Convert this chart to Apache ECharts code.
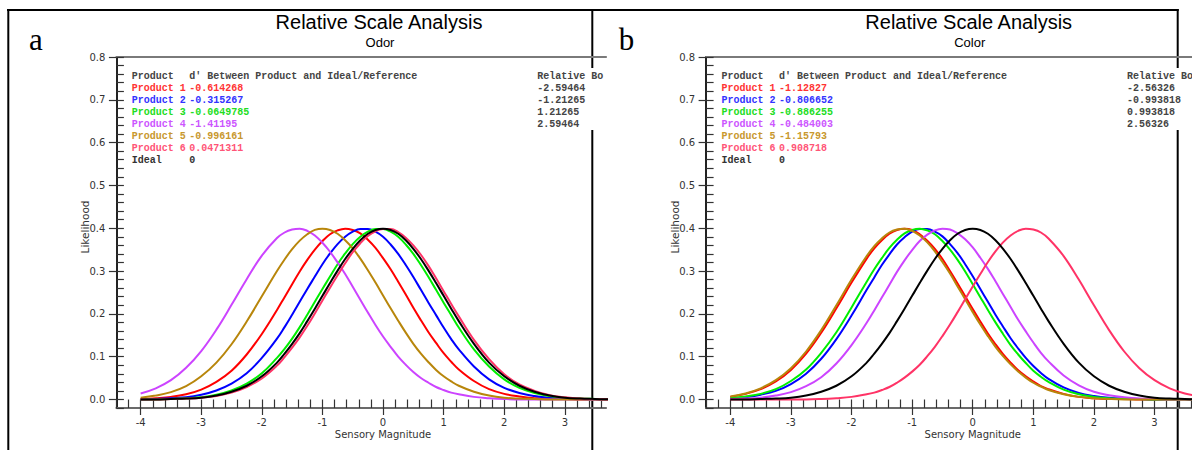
<!DOCTYPE html>
<html><head><meta charset="utf-8">
<script src="https://cdn.jsdelivr.net/npm/echarts@6/dist/echarts.min.js"></script>
<style>html,body{margin:0;padding:0;background:#fff}#c{width:1192px;height:450px}</style>
</head><body><div id="c"></div>
<script>
// ---------------- data ----------------
const xs = [-4,-3.75,-3.5,-3.25,-3,-2.75,-2.5,-2.25,-2,-1.75,
  -1.625,-1.5,-1.375,-1.25,-1.125,-1,-0.875,-0.75,-0.625,-0.5,-0.375,-0.25,-0.125,0,0.125,0.25,0.375,0.5,0.625,0.75,0.875,1,1.125,1.25,
  1.5,1.75,2,2.25,2.5,2.75,3,3.25,3.5,3.75];
const productNames = ['Product 1','Product 2','Product 3','Product 4','Product 5','Product 6','Ideal'];
const odorDprime  = ['-0.614268','-0.315267','-0.0649785','-1.41195','-0.996161','0.0471311','0'];
const colorDprime = ['-1.12827','-0.806652','-0.886255','-0.484003','-1.15793','0.908718','0'];
const odorBounds  = ['-2.59464','-1.21265','1.21265','2.59464'];
const colorBounds = ['-2.56326','-0.993818','0.993818','2.56326'];
const yTickLabels = ['0.0','0.1','0.2','0.3','0.4','0.5','0.6','0.7','0.8'];

const odorP1 = [0.001,0.003,0.006,0.012,0.023,0.041,0.067,0.105,0.153,0.209,
  0.239,0.269,0.299,0.326,0.350,0.370,0.386,0.395,0.399,0.396,0.388,0.373,0.354,0.330,0.304,0.275,0.245,0.214,0.185,0.157,0.132,0.108,0.088,0.070,
  0.043,0.024,0.013,0.007,0.003,0.001,0.001,0,0,0];
const odorP2 = [0,0.001,0.003,0.005,0.011,0.021,0.037,0.061,0.097,0.142,
  0.169,0.198,0.228,0.258,0.287,0.316,0.341,0.363,0.380,0.392,0.398,0.398,0.392,0.380,0.362,0.340,0.314,0.286,0.256,0.226,0.197,0.168,0.141,0.117,
  0.077,0.047,0.027,0.015,0.008,0.004,0.002,0.001,0,0];
const odorP3 = [0,0,0.001,0.003,0.005,0.011,0.021,0.037,0.061,0.097,
  0.118,0.142,0.169,0.198,0.228,0.258,0.287,0.316,0.341,0.363,0.380,0.392,0.398,0.398,0.392,0.380,0.362,0.340,0.314,0.286,0.256,0.226,0.197,0.168,
  0.117,0.077,0.047,0.027,0.015,0.008,0.004,0.002,0.001,0];
const odorP4 = [0.014,0.026,0.045,0.074,0.113,0.163,0.221,0.281,0.336,0.377,
  0.390,0.397,0.399,0.394,0.383,0.366,0.345,0.320,0.293,0.263,0.233,0.203,0.174,0.147,0.123,0.100,0.081,0.064,0.050,0.039,0.029,0.022,0.016,0.012,
  0.006,0.003,0.001,0,0,0,0,0,0,0];
const odorP5 = [0.004,0.009,0.017,0.031,0.054,0.086,0.129,0.182,0.241,0.300,
  0.327,0.351,0.371,0.386,0.396,0.399,0.396,0.387,0.372,0.353,0.329,0.302,0.273,0.243,0.213,0.184,0.156,0.130,0.107,0.087,0.069,0.054,0.042,0.032,
  0.018,0.009,0.004,0.002,0.001,0,0,0,0,0];
const odorP6 = [0,0,0.001,0.002,0.004,0.008,0.016,0.029,0.049,0.079,
  0.099,0.121,0.145,0.172,0.201,0.231,0.261,0.290,0.318,0.344,0.365,0.382,0.393,0.398,0.398,0.391,0.378,0.360,0.338,0.312,0.283,0.253,0.223,0.194,
  0.139,0.094,0.059,0.035,0.020,0.010,0.005,0.002,0.001,0];
const odorIdeal = [0,0,0.001,0.002,0.004,0.009,0.018,0.032,0.054,0.086,
  0.107,0.130,0.155,0.183,0.212,0.242,0.272,0.301,0.328,0.352,0.372,0.387,0.396,0.399,0.396,0.387,0.372,0.352,0.328,0.301,0.272,0.242,0.212,0.183,
  0.130,0.086,0.054,0.032,0.018,0.009,0.004,0.002,0.001,0];

const colorP1 = [0.006,0.013,0.024,0.042,0.069,0.107,0.156,0.213,0.273,0.329,
  0.353,0.372,0.387,0.396,0.399,0.396,0.386,0.371,0.352,0.328,0.300,0.271,0.241,0.211,0.182,0.154,0.129,0.106,0.086,0.068,0.054,0.042,0.031,0.024,
  0.013,0.006,0.003,0.001,0.001,0,0,0,0,0];
const colorP2 = [0.002,0.005,0.011,0.020,0.036,0.060,0.095,0.141,0.196,0.256,
  0.285,0.314,0.339,0.362,0.379,0.392,0.398,0.398,0.392,0.381,0.363,0.342,0.316,0.288,0.258,0.228,0.198,0.170,0.143,0.119,0.097,0.078,0.062,0.048,
  0.028,0.015,0.008,0.004,0.002,0.001,0,0,0,0];
const colorP3 = [0.003,0.007,0.013,0.024,0.043,0.070,0.109,0.157,0.215,0.275,
  0.304,0.330,0.354,0.373,0.388,0.396,0.399,0.395,0.386,0.370,0.350,0.326,0.299,0.269,0.239,0.209,0.180,0.153,0.127,0.105,0.085,0.067,0.053,0.041,
  0.023,0.012,0.006,0.003,0.001,0.001,0,0,0,0];
const colorP4 = [0.001,0.002,0.004,0.009,0.017,0.031,0.052,0.084,0.127,0.179,
  0.208,0.238,0.268,0.298,0.325,0.349,0.370,0.385,0.395,0.399,0.397,0.388,0.374,0.355,0.331,0.305,0.276,0.246,0.216,0.186,0.159,0.133,0.109,0.089,
  0.056,0.033,0.018,0.010,0.005,0.002,0.001,0,0,0];
const colorP5 = [0.007,0.014,0.026,0.045,0.073,0.112,0.162,0.220,0.280,0.335,
  0.358,0.376,0.390,0.397,0.399,0.394,0.383,0.367,0.346,0.321,0.294,0.264,0.234,0.204,0.175,0.148,0.123,0.101,0.082,0.065,0.051,0.039,0.030,0.022,
  0.012,0.006,0.003,0.001,0,0,0,0,0,0];
const colorP6 = [0,0,0,0,0,0,0.001,0.003,0.006,0.012,
  0.016,0.022,0.029,0.039,0.051,0.065,0.081,0.101,0.123,0.148,0.175,0.204,0.234,0.264,0.293,0.321,0.346,0.367,0.383,0.394,0.399,0.397,0.390,0.376,
  0.335,0.280,0.220,0.162,0.112,0.073,0.045,0.026,0.014,0.007];
const colorIdeal = [0,0,0.001,0.002,0.004,0.009,0.018,0.032,0.054,0.086,
  0.107,0.130,0.155,0.183,0.212,0.242,0.272,0.301,0.328,0.352,0.372,0.387,0.396,0.399,0.396,0.387,0.372,0.352,0.328,0.301,0.272,0.242,0.212,0.183,
  0.130,0.086,0.054,0.032,0.018,0.009,0.004,0.002,0.001,0];

// ---------------- styles / layout ----------------
const lineColors = ['#ff0000','#0000ff','#00ee00','#cc44ff','#b8860b','#ff3366','#000000'];
const textColors = ['#ff3333','#3333ff','#22dd22','#cc55ff','#c8982e','#ff5577','#333333'];
const AX = 116.4, UNIT = 60.6, TOP = 57, H = 351;
const XMIN = -4.4, XMAX = 3.68, YMIN = -0.02, YMAX = 0.8;
const TICK = {color:'#333', width:1.2};
const LEG_FONT = 'bold 10px "Liberation Mono", monospace';
const TICK_FONT = 'DejaVu Sans';

const PANELS = [
  {dx:0,     sub:'Odor',  letter:'a', dvals:odorDprime,  bounds:odorBounds,  curves:[odorP1,odorP2,odorP3,odorP4,odorP5,odorP6,odorIdeal],  frameX:592.3, clipBound:true},
  {dx:589.7, sub:'Color', letter:'b', dvals:colorDprime, bounds:colorBounds, curves:[colorP1,colorP2,colorP3,colorP4,colorP5,colorP6,colorIdeal], frameX:1177.7, clipBound:false}
];

const grids = [], xAxes = [], yAxes = [], series = [], graphics = [];
const gbase = {containLabel:false, outerBoundsMode:'none', show:false};
const hidden = (gi, min, max) => ({gridIndex:gi, type:'value', show:false, min, max, splitLine:{show:false}});

PANELS.forEach(p => {
  const left = AX + p.dx;
  // main grid (curves)
  const gMain = grids.length;
  grids.push(Object.assign({left, top:TOP, width:(XMAX-XMIN)*UNIT, height:H}, gbase));
  const xMainIdx = xAxes.length;
  xAxes.push({gridIndex:gMain, type:'value', position:'bottom', min:XMIN, max:XMAX,
    axisLine:{show:true, onZero:false, lineStyle:{color:'#6a6a6a', width:2}},
    axisTick:{show:false}, axisLabel:{show:false}, splitLine:{show:false}});
  xAxes.push({gridIndex:gMain, type:'value', position:'top', min:XMIN, max:XMAX,
    axisLine:{show:true, onZero:false, lineStyle:{color:'#7a7a7a', width:2}},
    axisTick:{show:false}, axisLabel:{show:false}, splitLine:{show:false}});
  const yMainIdx = yAxes.length;
  yAxes.push({gridIndex:gMain, type:'value', min:YMIN, max:YMAX, interval:0.02,
    axisLine:{show:true, onZero:false, lineStyle:{color:'#222', width:2}},
    axisTick:{show:true, inside:true, length:7.5, lineStyle:TICK},
    axisLabel:{show:false}, splitLine:{show:false}});

  // minor x ticks
  const gMinor = grids.length;
  grids.push(Object.assign({left, top:TOP, width:(3.6-XMIN)*UNIT, height:H}, gbase));
  xAxes.push({gridIndex:gMinor, type:'value', min:XMIN, max:3.6, interval:0.2,
    axisLine:{show:false}, axisTick:{show:true, inside:true, length:8.5, lineStyle:TICK},
    axisLabel:{show:false}, splitLine:{show:false}});
  yAxes.push(hidden(gMinor, 0, 1));

  // major x ticks + labels
  const gMajor = grids.length;
  grids.push(Object.assign({left:left+(-4-XMIN)*UNIT, top:TOP, width:7*UNIT, height:H}, gbase));
  xAxes.push({gridIndex:gMajor, type:'value', min:-4, max:3, interval:1,
    axisLine:{show:false}, axisTick:{show:true, inside:false, length:7, lineStyle:TICK},
    axisLabel:{show:true, margin:9, color:'#333', fontSize:10, fontFamily:TICK_FONT, formatter:v=>String(v)},
    splitLine:{show:false}});
  yAxes.push(hidden(gMajor, 0, 1));

  // major y ticks + labels
  const gY = grids.length;
  grids.push(Object.assign({left, top:TOP, width:60, height:H*(YMAX/(YMAX-YMIN))}, gbase));
  xAxes.push(hidden(gY, 0, 1));
  yAxes.push({gridIndex:gY, type:'value', min:0, max:0.8, interval:0.1,
    axisLine:{show:false}, axisTick:{show:true, inside:false, length:7.5, lineStyle:TICK},
    axisLabel:{show:true, margin:11, color:'#333', fontSize:10, fontFamily:TICK_FONT,
      formatter:v=>yTickLabels[Math.round(v*10)]},
    splitLine:{show:false}});

  // curves
  p.curves.forEach((vals, i) => {
    series.push({type:'line', name:productNames[i], xAxisIndex:xMainIdx, yAxisIndex:yMainIdx,
      data: xs.map((x, j) => [x, vals[j]]), showSymbol:false, smooth:0.4, clip:true,
      lineStyle:{color:lineColors[i], width:2}, itemStyle:{color:lineColors[i]}, z:3});
  });

  // texts
  const cx = 379 + p.dx;
  graphics.push({type:'text', x:cx, y:22, silent:true, style:{text:'Relative Scale Analysis', fill:'#000',
    font:'20px "Liberation Sans", Arial, sans-serif', textAlign:'center', textVerticalAlign:'middle'}});
  graphics.push({type:'text', x:cx+1, y:42, silent:true, style:{text:p.sub, fill:'#000',
    font:'13px "Liberation Sans", Arial, sans-serif', textAlign:'center', textVerticalAlign:'middle'}});
  graphics.push({type:'text', x:29 + p.dx, y:39, silent:true, style:{text:p.letter, fill:'#000',
    font:'31px "Liberation Serif", "Times New Roman", serif', textAlign:'left', textVerticalAlign:'middle'}});
  graphics.push({type:'text', x:85 + p.dx, y:227, rotation:Math.PI/2, silent:true, style:{text:'Likelihood', fill:'#333',
    font:'10.5px "DejaVu Sans"', textAlign:'center', textVerticalAlign:'middle'}});
  graphics.push({type:'text', x:383 + p.dx, y:434, silent:true, style:{text:'Sensory Magnitude', fill:'#333',
    font:'10px "DejaVu Sans"', textAlign:'center', textVerticalAlign:'middle'}});

  const c1 = 131.7 + p.dx, c2 = 189.3 + p.dx, c3 = 537.3 + p.dx;
  const rows = [76, 88, 100, 112, 124, 136, 148, 160];
  const t = (x, y, s, fill, extra) => graphics.push({type:'text', x, y, silent:true,
    style:Object.assign({text:s, fill, font:LEG_FONT, textAlign:'left', textVerticalAlign:'middle'}, extra||{})});
  t(c1, rows[0], 'Product', '#444');
  t(c2, rows[0], "d' Between Product and Ideal/Reference", '#444');
  t(c3, rows[0], 'Relative Boundaries', '#444', p.clipBound ? {width:69, overflow:'truncate', ellipsis:''} : {});
  productNames.forEach((n, i) => {
    t(c1, rows[i+1], n, textColors[i]);
    t(c2, rows[i+1], p.dvals[i], textColors[i]);
  });
  p.bounds.forEach((b, i) => t(c3, rows[i+1], b, '#444'));

  // frame right edge (broken behind the boundaries column)
  graphics.push({type:'line', silent:true, shape:{x1:p.frameX, y1:9, x2:p.frameX, y2:68}, style:{stroke:'#000', lineWidth:2}});
  graphics.push({type:'line', silent:true, shape:{x1:p.frameX, y1:130, x2:p.frameX, y2:452}, style:{stroke:'#000', lineWidth:2}});
});
// frame top & left
graphics.push({type:'line', silent:true, shape:{x1:7, y1:10, x2:1178.7, y2:10}, style:{stroke:'#000', lineWidth:2}});
graphics.push({type:'line', silent:true, shape:{x1:8.3, y1:9, x2:8.3, y2:452}, style:{stroke:'#000', lineWidth:2}});

const chart = echarts.init(document.getElementById('c'), null, {renderer:'svg'});
chart.setOption({
  animation:false,
  backgroundColor:'#fff',
  grid:grids, xAxis:xAxes, yAxis:yAxes, series,
  graphic:{elements:graphics}
});
</script>
</body></html>
